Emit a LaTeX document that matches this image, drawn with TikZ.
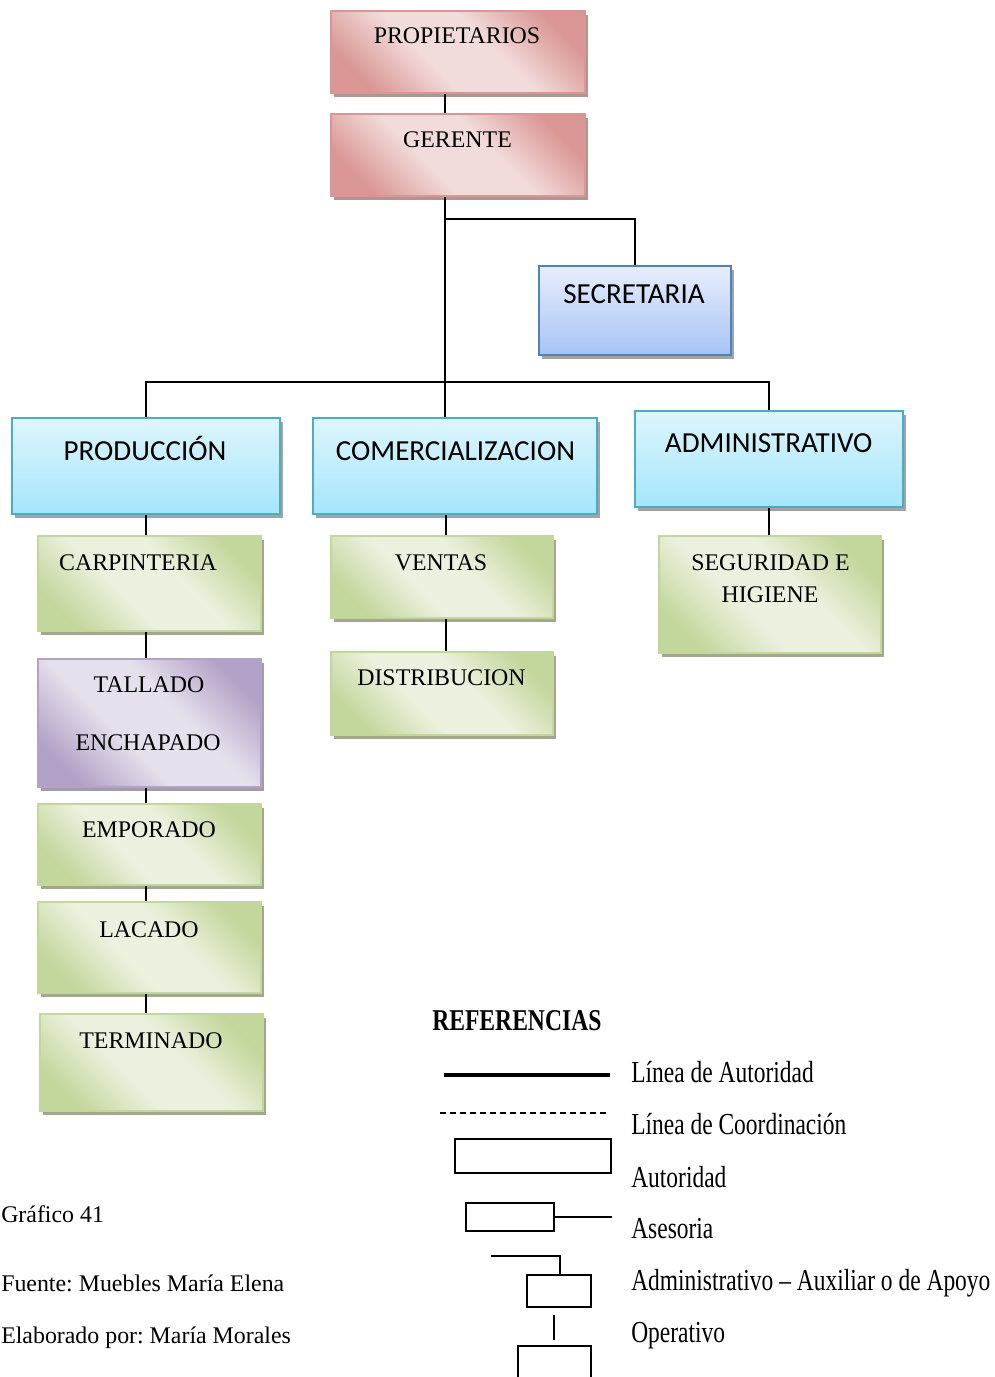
\documentclass[tikz,border=0pt]{standalone}
\usepackage{fontspec}
\usepackage{graphicx}
\setmainfont{Liberation Serif}
\newfontfamily\calibri{Carlito}
\usetikzlibrary{shadows,fit,calc}
\frenchspacing

% box colours
\definecolor{redD}{HTML}{D99694}
\definecolor{redL}{HTML}{F2DCDB}
\definecolor{grnD}{HTML}{C3D69B}
\definecolor{grnL}{HTML}{EBF1DE}
\definecolor{purD}{HTML}{B3A2C7}
\definecolor{purL}{HTML}{E6E0EC}
\definecolor{cyanT}{HTML}{DDF5FD}
\definecolor{cyanB}{HTML}{A5E6FB}
\definecolor{cyanE}{HTML}{4BACC6}
\definecolor{bluT}{HTML}{E6EEFC}
\definecolor{bluB}{HTML}{A7C3F5}
\definecolor{bluE}{HTML}{4F81BD}
\definecolor{shGray}{HTML}{A3A3A3}
\definecolor{shRed}{HTML}{AE9696}
\definecolor{shGrn}{HTML}{A3A78E}
\definecolor{shPur}{HTML}{A29CA8}

% diagonal two-tone gradients
\pgfdeclarehorizontalshading{redgrad}{100bp}{color(0bp)=(redD); color(24bp)=(redD); color(42bp)=(redL); color(58bp)=(redL); color(76bp)=(redD); color(100bp)=(redD)}
\pgfdeclarehorizontalshading{grngrad}{100bp}{color(0bp)=(grnD); color(24bp)=(grnD); color(42bp)=(grnL); color(58bp)=(grnL); color(76bp)=(grnD); color(100bp)=(grnD)}
\pgfdeclarehorizontalshading{purgrad}{100bp}{color(0bp)=(purD); color(24bp)=(purD); color(42bp)=(purL); color(58bp)=(purL); color(76bp)=(purD); color(100bp)=(purD)}

\begin{document}
\begin{tikzpicture}[x=0.75pt,y=-0.75pt]
\tikzset{
  conn/.style={line width=1.5pt, black},
  orgbox/.style={draw, line width=1.5pt, inner sep=0pt, shade},
  redbox/.style={orgbox, draw=redD, shading=redgrad, shading angle=45,
    drop shadow={shadow xshift=2.25pt, shadow yshift=-3pt, fill=shRed, opacity=1}},
  grnbox/.style={orgbox, draw=grnD, shading=grngrad, shading angle=45,
    drop shadow={shadow xshift=2.25pt, shadow yshift=-3pt, fill=shGrn, opacity=1}},
  purbox/.style={orgbox, draw=purD, shading=purgrad, shading angle=45,
    drop shadow={shadow xshift=2.25pt, shadow yshift=-3pt, fill=shPur, opacity=1}},
  cyanbox/.style={orgbox, draw=cyanE, top color=cyanT, bottom color=cyanB,
    drop shadow={shadow xshift=2.25pt, shadow yshift=-3pt, fill=shGray, opacity=1}},
  blubox/.style={orgbox, draw=bluE, top color=bluT, bottom color=bluB,
    drop shadow={shadow xshift=2.25pt, shadow yshift=-3pt, fill=shGray, opacity=1}},
  serif/.style={font=\fontsize{17.9}{21}\selectfont, inner sep=0pt, anchor=base},
  sans/.style={font=\calibri\fontsize{21.8}{26}\selectfont, inner sep=0pt, anchor=base},
  legtext/.style={font=\fontsize{17.6}{21}\selectfont, inner sep=0pt, anchor=base west},
  legbox/.style={draw, line width=1.1pt, inner sep=0pt},
}
\useasboundingbox (0,0) rectangle (995,1377);
\clip (0,0) rectangle (995,1377);

% ---- boxes ----
\node[redbox, fit={(331,11)(585,93)}] (prop) {};
\node[redbox, fit={(331,114)(585,196)}] (ger) {};
\node[blubox, fit={(539,266)(731,355)}] (sec) {};
\node[cyanbox, fit={(12,418)(280,514)}] (prod) {};
\node[cyanbox, fit={(313,418)(597,514)}] (com) {};
\node[cyanbox, fit={(635,411)(903,507)}] (adm) {};
\node[grnbox, fit={(38,536)(261,631)}] (carp) {};
\node[purbox, fit={(38,659)(261,787)}] (tall) {};
\node[grnbox, fit={(38,804)(261,885)}] (empo) {};
\node[grnbox, fit={(38,902)(261,993)}] (laca) {};
\node[grnbox, fit={(40,1014)(263,1111)}] (term) {};
\node[grnbox, fit={(331,536)(553,618)}] (vent) {};
\node[grnbox, fit={(331,652)(553,735)}] (dist) {};
\node[grnbox, fit={(659,536)(881,653)}] (seg) {};

% ---- labels ----
\node[serif] (propT) at (457,44) {PROPIETARIOS};
\node[serif] (gerT) at (457.5,147) {GERENTE};
\node[sans] (secT) at (634,303) {SECRETARIA};
\node[sans] (prodT) at (145,460) {PRODUCCIÓN};
\node[sans] (comT) at (455.5,460) {COMERCIALIZACION};
\node[sans] (admT) at (768.7,452.5) {ADMINISTRATIVO};
\node[serif] (carpT) at (138,570.5) {CARPINTERIA};
\node[serif] (tallT) at (149,692) {TALLADO};
\node[serif] (enchT) at (148,750) {ENCHAPADO};
\node[serif] (empoT) at (149,837) {EMPORADO};
\node[serif] (lacaT) at (149,937) {LACADO};
\node[serif] (termT) at (151,1048) {TERMINADO};
\node[serif] (ventT) at (441,570) {VENTAS};
\node[serif] (distT) at (441.5,685) {DISTRIBUCION};
\node[serif] (segT) at (770.5,570) {SEGURIDAD E};
\node[serif] (higT) at (770,602) {HIGIENE};

% ---- connectors ----
\coordinate (spine) at (445,219);
\coordinate (bus) at (445,382);
\draw[conn] (prop.south -| spine) -- (ger.north -| spine);
\draw[conn] (ger.south -| spine) -- (com.north -| spine);
\draw[conn] (spine) -| (sec.north);
\draw[conn] (prod.north) |- (bus) -| (adm.north);
\draw[conn] (prod.south -| 146,0) -- (carp.north -| 146,0);
\draw[conn] (carp.south -| 146,0) -- (tall.north -| 146,0);
\draw[conn] (tall.south -| 146,0) -- (empo.north -| 146,0);
\draw[conn] (empo.south -| 146,0) -- (laca.north -| 146,0);
\draw[conn] (laca.south -| 146,0) -- (term.north -| 146,0);
\draw[conn] (com.south -| 446,0) -- (vent.north -| 446,0);
\draw[conn] (vent.south -| 446,0) -- (dist.north -| 446,0);
\draw[conn] (adm.south) -- (adm.south |- seg.north);

% ---- legend ----
\node[inner sep=0pt, anchor=base west, font=\bfseries\fontsize{17.7}{21}\selectfont] (refT) at (432,1030) {\scalebox{1}[1.28]{REFERENCIAS}};
\coordinate (la1) at (444,1075); \coordinate (la2) at (610,1075);
\draw[line width=3pt] (la1) -- (la2);
\coordinate (lc1) at (440,1113); \coordinate (lc2) at (607,1113);
\draw[line width=1.1pt, dash pattern=on 4.5pt off 3pt] (lc1) -- (lc2);
\node[legbox, fit={(455,1139)(611,1173)}] (lgAut) {};
\node[legbox, fit={(466,1203)(554,1231)}] (lgAse) {};
\coordinate (aseEnd) at (612,1217);
\draw[line width=1.1pt] (lgAse.east) -- (aseEnd);
\node[legbox, fit={(527,1275)(591,1307)}] (lgAdm) {};
\coordinate (admTop) at (491,1256);
\draw[line width=1.1pt] (admTop) -| (lgAdm.north -| 560,0);
\coordinate (opTop) at (554,1315); \coordinate (opBot) at (554,1340);
\draw[line width=1.1pt] (opTop) -- (opBot);
\coordinate (opL) at (518,1346); \coordinate (opR) at (591,1346);
\draw[line width=1.1pt] (518,1385) -- (opL) -- (opR) -- (591,1385);

\node[legtext] (l1) at (631,1082) {\scalebox{1}[1.3]{Línea de Autoridad}};
\node[legtext] (l2) at (631,1134) {\scalebox{1}[1.3]{Línea de Coordinación}};
\node[legtext] (l3) at (631,1187) {\scalebox{1}[1.3]{Autoridad}};
\node[legtext] (l4) at (631,1238) {\scalebox{1}[1.3]{Asesoria}};
\node[legtext] (l5) at (631,1290) {\scalebox{1}[1.3]{Administrativo – Auxiliar o de Apoyo}};
\node[legtext] (l6) at (631,1342) {\scalebox{1}[1.3]{Operativo}};

% ---- caption ----
\node[serif, anchor=base west] (cap1) at (1,1222) {Gráfico 41};
\node[serif, anchor=base west] (cap2) at (1,1291.5) {Fuente: Muebles María Elena};
\node[serif, anchor=base west] (cap3) at (1,1343) {Elaborado por: María Morales};
\end{tikzpicture}
\end{document}
